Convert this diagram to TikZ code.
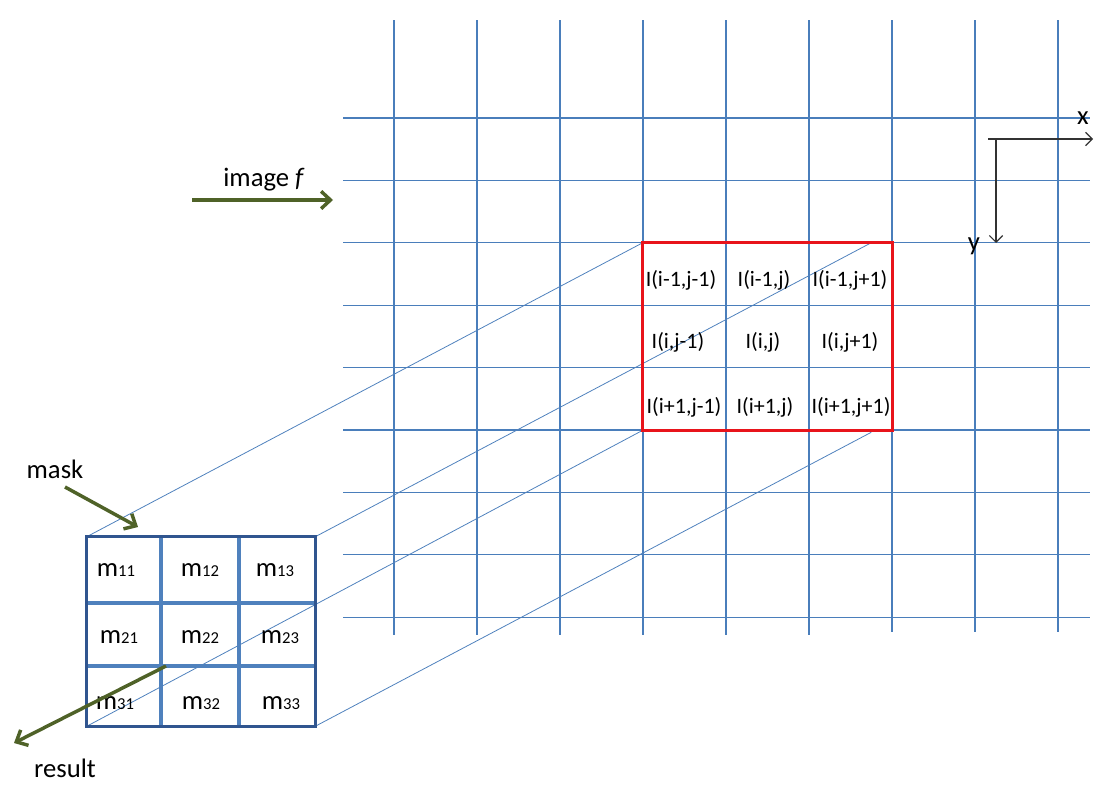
\documentclass[tikz,border=0pt]{standalone}
\usepackage{fontspec}
\setmainfont{Carlito}
\usetikzlibrary{arrows.meta,positioning,calc}
\definecolor{gridblue}{HTML}{4A7EBB}
\definecolor{maskblue}{HTML}{30558F}
\definecolor{cellblue}{HTML}{4F81BD}
\definecolor{arrowgreen}{HTML}{4F6228}
\definecolor{winred}{HTML}{E8141B}
\newcommand{\maskentry}[1]{m{\fontsize{12.5}{14}\selectfont #1}}

\begin{document}
\begin{tikzpicture}[x=0.75pt, y=-0.75pt,
    gridline/.style={gridblue, line width=1pt},
    proj/.style={cellblue, line width=0.6pt},
    pointer/.style={arrowgreen, line width=2.6pt, -{Straight Barb[length=7pt, width=13pt]}},
    axis/.style={black!80, line width=0.9pt, -{Straight Barb[length=5pt, width=10pt]}},
    label/.style={font=\fontsize{20}{24}\selectfont, inner sep=0pt},
    pixel/.style={font=\fontsize{16.5}{19}\selectfont, inner sep=0pt},
    coef/.style={font=\fontsize{20}{24}\selectfont, inner sep=0pt}
]
\useasboundingbox (0,0) rectangle (1103,785);

% Image grid (vertical lines)
\draw[gridline] (394,20) -- (394,635);
\draw[gridline] (477,20) -- (477,635);
\draw[gridline] (560,20) -- (560,635);
\draw[gridline] (643,20) -- (643,635);
\draw[gridline] (726,20) -- (726,635);
\draw[gridline] (809,20) -- (809,635);
\draw[gridline] (892,20) -- (892,632);
\draw[gridline] (975,20) -- (975,632);
\draw[gridline] (1058,20) -- (1058,632);

% Image grid (horizontal lines)
\draw[gridline] (343,118) -- (1090,118);
\draw[gridline] (343,180.4) -- (1090,180.4);
\draw[gridline] (343,242.8) -- (1090,242.8);
\draw[gridline] (343,305.2) -- (1090,305.2);
\draw[gridline] (343,367.6) -- (1090,367.6);
\draw[gridline] (343,430) -- (1090,430);
\draw[gridline] (343,492.4) -- (1090,492.4);
\draw[gridline] (343,554.8) -- (1090,554.8);
\draw[gridline] (343,617.2) -- (1090,617.2);

% Window and mask frames
\node[minimum width=186.75pt, minimum height=140.25pt, inner sep=0pt] (win) at (767.5,336.5) {};
\node[minimum width=171pt, minimum height=141.75pt, inner sep=0pt] (mask) at (201,631.5) {};
\coordinate (far ne) at ($(mask.north east)+(556,-294)$);
\coordinate (far se) at ($(mask.south east)+(556,-294)$);

% Projection lines
\draw[proj] (mask.north west) -- (win.north west);
\draw[proj] (mask.north east) -- (far ne);
\draw[proj] (mask.south west) -- (win.south west);
\draw[proj] (mask.south east) -- (far se);
\draw[winred, line width=2.6pt] (win.north west) rectangle (win.south east);

% Pixel labels
\node[pixel] (w11) at (681,280) {I(i-1,j-1)};
\node[pixel] (w12) at (764,280) {I(i-1,j)};
\node[pixel] (w13) at (850,280) {I(i-1,j+1)};
\node[pixel] (w21) at (678,342) {I(i,j-1)};
\node[pixel] (w22) at (763,342) {I(i,j)};
\node[pixel] (w23) at (850,342) {I(i,j+1)};
\node[pixel] (w31) at (684,407) {I(i+1,j-1)};
\node[pixel] (w32) at (765,407) {I(i+1,j)};
\node[pixel] (w33) at (851,407) {I(i+1,j+1)};

% Mask cells
\draw[cellblue, line width=2.4pt] (161,537) -- (161,726);
\draw[cellblue, line width=2.4pt] (239,537) -- (239,726);
\draw[cellblue, line width=2.4pt] (87,603) -- (315,603);
\draw[cellblue, line width=2.4pt] (87,666) -- (315,666);
\draw[maskblue, line width=2.4pt] (mask.north west) rectangle (mask.south east);

\node[coef] (m11) at (116,570) {\maskentry{11}};
\node[coef] (m12) at (200,570) {\maskentry{12}};
\node[coef] (m13) at (275,570) {\maskentry{13}};
\node[coef] (m21) at (119,637) {\maskentry{21}};
\node[coef] (m22) at (200,637) {\maskentry{22}};
\node[coef] (m23) at (280,637) {\maskentry{23}};
\node[coef] (m31) at (115,703) {\maskentry{31}};
\node[coef] (m32) at (201,703) {\maskentry{32}};
\node[coef] (m33) at (281,703) {\maskentry{33}};

% Green pointers and their labels
\node[label] (imglabel) at (264,180) {image \textit{f}};
\coordinate (img from) at (192,200);
\coordinate (img to) at (333,200);
\draw[pointer] (img from) -- (img to);

\node[label] (masklabel) at (55,469) {mask};
\coordinate (mask from) at (65,487);
\coordinate (mask to) at (138,527);
\draw[pointer] (mask from) -- (mask to);

\node[label] (reslabel) at (65,768) {result};
\coordinate (res from) at (166,666);
\coordinate (res to) at (14,743);
\draw[pointer] (res from) -- (res to);

% Axes
\coordinate (origin) at (988,139);
\coordinate (xend) at (1093,139);
\coordinate (ystart) at (996,139);
\coordinate (yend) at (996,243);
\draw[axis] (origin) -- (xend);
\draw[axis] (ystart) -- (yend);
\node[label] (xlabel) at (1083,118) {x};
\node[label] (ylabel) at (974,246) {y};

\end{tikzpicture}
\end{document}
